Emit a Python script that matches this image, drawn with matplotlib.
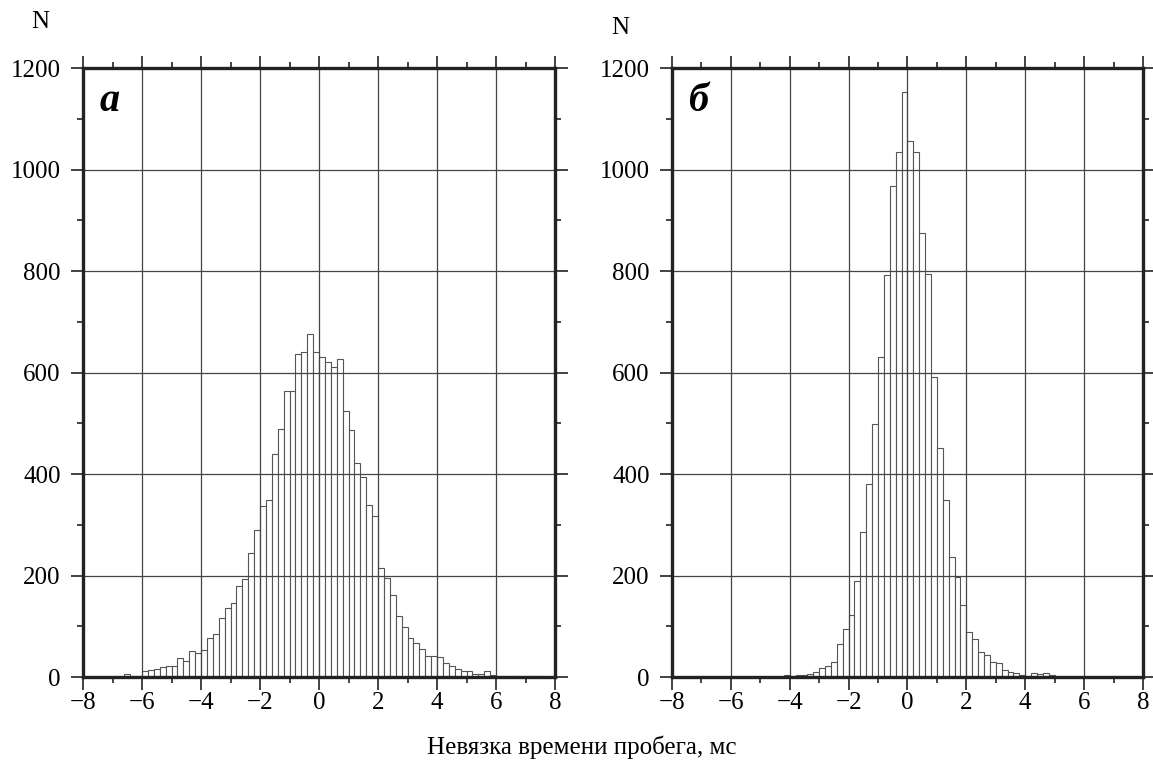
import numpy as np
import matplotlib
matplotlib.use('Agg')
import matplotlib.pyplot as plt
from matplotlib.ticker import MultipleLocator

# Histogram counts, bins of width 0.2 ms from -8 to 8
bin_width = 0.2
counts_a = [0] * 7 + [
    5, 3, 3, 12, 13, 15, 20, 21, 21, 38, 32, 51, 48, 53, 77, 85, 117, 136, 146,
    179, 193, 245, 290, 337, 349, 439, 488, 564, 563, 637, 641, 675, 641,
    630, 621, 611, 626, 524, 487, 422, 394, 338, 318, 215, 195, 162, 120, 98,
    77, 68, 56, 41, 41, 40, 27, 22, 15, 11, 11, 6, 6, 12, 4, 2, 1, 3, 3, 1,
    3, 3, 3, 0, 0]
counts_b = [0] * 18 + [
    1, 4, 2, 4, 4, 6, 10, 17, 22, 29, 66, 95, 122, 189, 285, 381, 498, 631,
    792, 967, 1035, 1152,
    1057, 1035, 874, 795, 591, 452, 349, 237, 197, 141, 89, 74, 49, 44, 30,
    28, 13, 10, 7, 4, 2, 7, 5, 7, 4, 1] + [0] * 14
panel_labels = ['a', 'б']
xlabel = 'Невязка времени пробега, мс'

plt.rcParams.update({
    'font.family': ['Liberation Serif', 'DejaVu Serif'],
    'font.size': 18})

fig = plt.figure(figsize=(11.53, 7.67), dpi=100)
ax_a = fig.add_axes([0.072, 0.1173, 0.4094, 0.794])
ax_b = fig.add_axes([0.5828, 0.1173, 0.4085, 0.794])

edges = -8 + bin_width * np.arange(80)

for ax, counts, lab in zip([ax_a, ax_b], [counts_a, counts_b], panel_labels):
    ax.bar(edges, counts, width=bin_width, align='edge', facecolor='white',
           edgecolor='#555555', linewidth=0.8)
    ax.set_xlim(-8, 8)
    ax.set_ylim(0, 1200)
    ax.xaxis.set_major_locator(MultipleLocator(2))
    ax.xaxis.set_minor_locator(MultipleLocator(1))
    ax.yaxis.set_major_locator(MultipleLocator(200))
    ax.yaxis.set_minor_locator(MultipleLocator(100))
    ax.set_xticklabels([f'{v:g}'.replace('-', '\u2212') for v in ax.get_xticks()])
    ax.tick_params(which='both', direction='out', top=True, right=True,
                   width=1.2, color='#222222', labelsize=18)
    ax.tick_params(which='major', length=9)
    ax.tick_params(axis='y', which='major', pad=7)
    ax.tick_params(axis='x', which='major', pad=2)
    ax.tick_params(which='minor', length=4.5)
    ax.grid(which='major', color='#444444', linewidth=0.9)
    for s in ax.spines.values():
        s.set_linewidth(2.4)
        s.set_color('#222222')
    ax.text(0.035, 0.975, lab, transform=ax.transAxes, ha='left', va='top',
            fontsize=29, fontweight='bold', fontstyle='italic')

fig.text(40 / 1153, 1 - 22 / 767, 'N', ha='center', va='center', fontsize=18)
fig.text(620 / 1153, 1 - 28 / 767, 'N', ha='center', va='center', fontsize=18)
fig.text(582 / 1153, 1 - 747 / 767, xlabel, ha='center', va='center', fontsize=18)

fig.savefig('out.png', dpi=100)
